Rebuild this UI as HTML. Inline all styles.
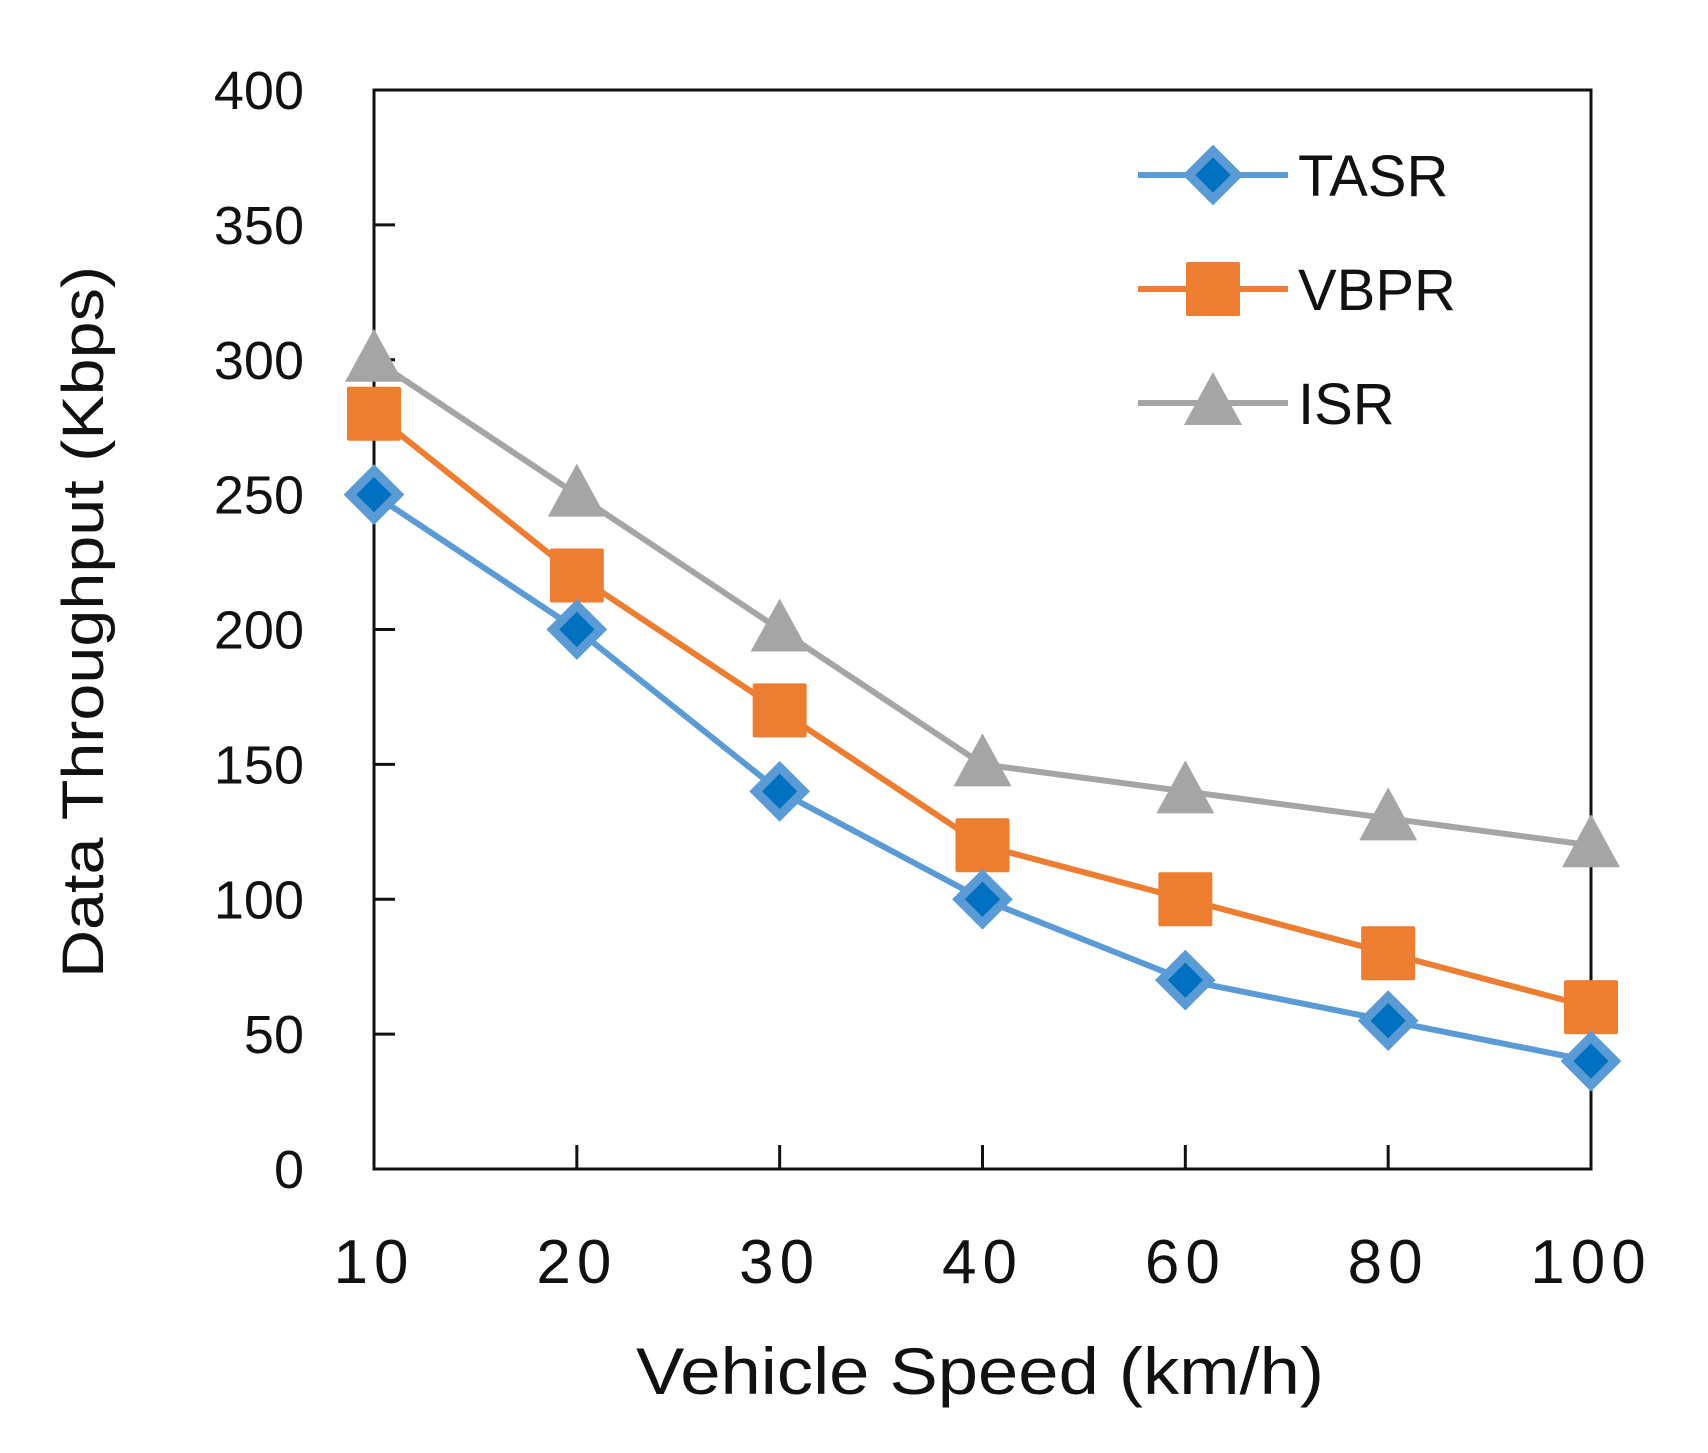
<!DOCTYPE html>
<html><head><meta charset="utf-8"><style>
html,body{margin:0;padding:0;background:#fff;}
svg text{font-family:"Liberation Sans",sans-serif;fill:#111;}
</style></head><body>
<svg id="chart" width="1708" height="1448" viewBox="0 0 1708 1448" xmlns="http://www.w3.org/2000/svg">
<rect width="1708" height="1448" fill="#fff"/>
<g id="plot"></g>
</svg>
<script>
const categories = ["10","20","30","40","60","80","100"];
const tasr = [250,200,140,100,70,55,40];
const vbpr = [280,220,170,120,100,80,60];
const isr = [300,250,200,150,140,130,120];
const yTicks = [0,50,100,150,200,250,300,350,400];

const L=374, R=1591, T=90, B=1169, YMAX=400;
const NS="http://www.w3.org/2000/svg";
const g=document.getElementById('plot');
function x(i){return L+(R-L)*i/(categories.length-1);}
function y(v){return B-(B-T)*v/YMAX;}
function el(tag,attrs,parent){const e=document.createElementNS(NS,tag);for(const k in attrs)e.setAttribute(k,attrs[k]);(parent||g).appendChild(e);return e;}

// frame
const frame=el('rect',{x:L,y:T,width:R-L,height:B-T,fill:'none',stroke:'#111','stroke-width':3});



yTicks.forEach(v=>{
  const t=el('line',{x1:L,x2:L+21,y1:y(v),y2:y(v),stroke:'#111','stroke-width':3});
  
  
  const lb=el('text',{x:304,y:y(v)+19,'font-size':54,'text-anchor':'end'});
  lb.textContent=v;
  
  
});
categories.forEach((c,i)=>{
  if(i>0&&i<categories.length-1){
    const t=el('line',{x1:x(i),x2:x(i),y1:B,y2:B-24,stroke:'#111','stroke-width':3});
    
    
  }
  const lb=el('text',{x:x(i),y:1283,'font-size':62,'text-anchor':'middle','letter-spacing':6});
  lb.textContent=c;
  
  
});
const xt=el('text',{x:980,y:1394,'font-size':66,'text-anchor':'middle',textLength:688,lengthAdjust:'spacingAndGlyphs'});
xt.textContent='Vehicle Speed (km/h)';


const yt=el('text',{x:0,y:0,'font-size':58,'text-anchor':'middle',textLength:712,lengthAdjust:'spacingAndGlyphs',transform:'translate(103,622) rotate(-90)'});
yt.textContent='Data Throughput (Kbps)';



function marker(type,cx,cy,parent){
  let m;
  if(type==='diamond'){
    m=el('polygon',{points:`${cx},${cy-24} ${cx+24},${cy} ${cx},${cy+24} ${cx-24},${cy}`,fill:'#0070c0',stroke:'#5b9bd5','stroke-width':9,'stroke-linejoin':'miter'},parent);
  }else if(type==='square'){
    m=el('rect',{x:cx-27,y:cy-27,width:54,height:54,fill:'#ed7d31',rx:2},parent);
  }else{
    m=el('polygon',{points:`${cx},${cy-31} ${cx+29},${cy+22} ${cx-29},${cy+22}`,fill:'#a5a5a5'},parent);
  }
  
  
}
const series=[
  {name:'TASR',data:tasr,color:'#5b9bd5',m:'diamond',ly:175},
  {name:'VBPR',data:vbpr,color:'#ed7d31',m:'square',ly:289},
  {name:'ISR',data:isr,color:'#a5a5a5',m:'triangle',ly:403}
];
// draw in order ISR, VBPR, TASR (TASR on top)
[...series].reverse().forEach(s=>{
  const sg=el('g',{});
  
  
  const pts=s.data.map((v,i)=>x(i)+','+y(v)).join(' ');
  const pl=el('polyline',{points:pts,fill:'none',stroke:s.color,'stroke-width':6,'stroke-linejoin':'round'},sg);
  
  
  s.data.forEach((v,i)=>marker(s.m,x(i),y(v),sg));
});
series.forEach(s=>{
  const lg=el('g',{});
  
  
  const ln=el('line',{x1:1138,x2:1288,y1:s.ly,y2:s.ly,stroke:s.color,'stroke-width':6},lg);
  
  
  marker(s.m,1213,s.ly,lg);
  const t=el('text',{x:1298,y:s.ly+21,'font-size':58},lg);
  t.textContent=s.name;
  
  
});
</script>
</body></html>
